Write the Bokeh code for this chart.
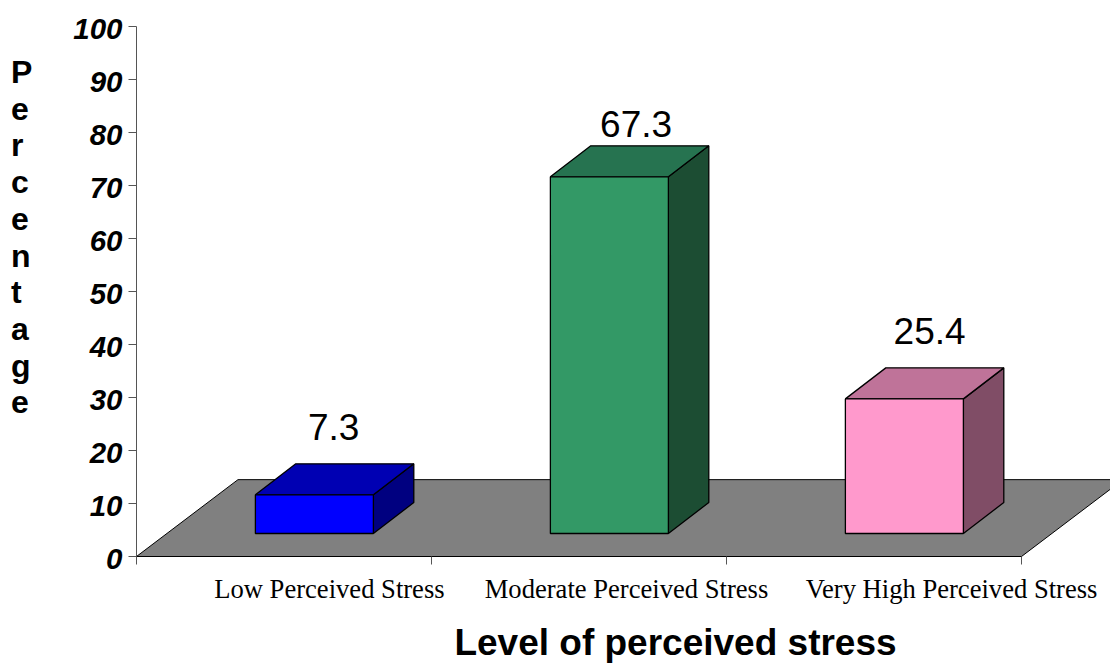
from bokeh.plotting import figure
from bokeh.models import FixedTicker, ColumnDataSource
from bokeh.core.properties import value
from bokeh.embed import file_html
from bokeh.resources import INLINE

categories = ["Low Perceived Stress", "Moderate Perceived Stress", "Very High Perceived Stress"]
values = [7.3, 67.3, 25.4]
value_labels = ["7.3", "67.3", "25.4"]
y_ticks = list(range(0, 101, 10))
y_title = "Percentage"
x_title = "Level of perceived stress"
front_colors = ["#0000FF", "#339966", "#FF99CC"]
top_colors = ["#0000B3", "#267350", "#BF7399"]
side_colors = ["#000080", "#1C4D33", "#804D66"]

# projection of the pseudo-3D box (axis units)
FLOOR_DX, FLOOR_DY = 0.344, 14.5
BAR_LEFT, BAR_W = 0.403, 0.40
BASE_Y = 4.34
DEPTH_X, DEPTH_Y = 0.137, 5.85
label_pad = [7.0, 4.1, 6.9]
label_shift = [-0.003, 0.022, 0.017]
tick_label_pos = [0.654, 1.661, 2.763]
y_label_drop = 0.47

# one category unit = 295 px, one percent = 5.3 px; the axes cross at (136, 556)
UX, UY = 295, 5.3

def ax_x(px):
    return (px - 136) / UX

def ax_y(px):
    return (556 - px) / UY

p = figure(width=1110, height=665, x_range=(ax_x(0), ax_x(1110)), y_range=(ax_y(665), ax_y(0)),
           output_backend="svg", toolbar_location=None,
           min_border=0, x_axis_type="linear", y_axis_type="linear",
           background_fill_color="white", border_fill_color="white", outline_line_color=None)
p.grid.visible = False

# floor
p.patch([0, 3, 3 + FLOOR_DX, FLOOR_DX], [0, 0, FLOOR_DY, FLOOR_DY],
        fill_color="#808080", line_color="black", line_width=1)

fx, fy, tx, ty, sx, sy = [], [], [], [], [], []
for i, v in enumerate(values):
    l = i + BAR_LEFT
    r = l + BAR_W
    b = BASE_Y
    t = b + v
    fx.append([l, r, r, l]); fy.append([b, b, t, t])
    tx.append([l, r, r + DEPTH_X, l + DEPTH_X]); ty.append([t, t, t + DEPTH_Y, t + DEPTH_Y])
    sx.append([r, r + DEPTH_X, r + DEPTH_X, r]); sy.append([b, b + DEPTH_Y, t + DEPTH_Y, t])

p.patches(sx, sy, fill_color=side_colors, line_color="black", line_width=1.3)
p.patches(tx, ty, fill_color=top_colors, line_color="black", line_width=1.3)
p.patches(fx, fy, fill_color=front_colors, line_color="black", line_width=1.3)

src = ColumnDataSource(dict(
    x=[i + BAR_LEFT + (BAR_W + DEPTH_X) / 2 + s for i, s in enumerate(label_shift)],
    y=[v + BASE_Y + DEPTH_Y + q for v, q in zip(values, label_pad)],
    t=value_labels))
p.text("x", "y", text="t", source=src, text_align="center", text_baseline="alphabetic",
       text_font_size="37px", text_font=value("Liberation Sans"), text_color="black")

# y axis: tick marks on the values, labels set slightly below them
y_label_pos = [t - y_label_drop for t in y_ticks]
ya = p.yaxis[0]
ya.fixed_location = 0
ya.bounds = (0, 100)
ya.ticker = FixedTicker(ticks=y_label_pos, minor_ticks=y_ticks)
ya.major_label_overrides = {pos: str(t) for pos, t in zip(y_label_pos, y_ticks)}
ya.major_tick_line_color = None
ya.major_tick_in = 0
ya.major_tick_out = 8
ya.minor_tick_in = 0
ya.minor_tick_out = 8
ya.minor_tick_line_color = "#555555"
ya.axis_line_color = "#555555"
ya.major_label_text_font = "Liberation Sans"
ya.major_label_text_font_style = "bold italic"
ya.major_label_text_font_size = "29.5px"
ya.major_label_text_color = "black"
ya.major_label_standoff = 6

# x axis
xa = p.xaxis[0]
xa.fixed_location = 0
xa.ticker = FixedTicker(ticks=tick_label_pos, minor_ticks=[0, 1, 2, 3])
xa.major_label_overrides = dict(zip(tick_label_pos, categories))
xa.major_tick_line_color = None
xa.major_tick_in = 0
xa.major_tick_out = 0
xa.minor_tick_in = 0
xa.minor_tick_out = 8
xa.minor_tick_line_color = "#555555"
xa.bounds = (0, 3)
xa.axis_line_color = "black"
xa.major_label_text_font = "Liberation Serif"
xa.major_label_text_font_size = "26.6px"
xa.major_label_text_color = "black"
xa.major_label_standoff = 9

# titles, drawn as text in axis units below and left of the axes
p.text([ax_x(675)], [ax_y(642)], text=[x_title], text_font=value("Liberation Sans"),
       text_font_style="bold", text_font_size="37px", text_align="center",
       text_baseline="middle", text_color="black")
letters = list(y_title)
p.text([ax_x(10.5)] * len(letters), [ax_y(71.5 + k * 36.7) for k in range(len(letters))], text=letters,
       text_font=value("Liberation Sans"), text_font_style="bold", text_font_size="32px",
       text_align="left", text_baseline="middle", text_color="black")

open("out.html", "w").write(file_html(p, INLINE))
